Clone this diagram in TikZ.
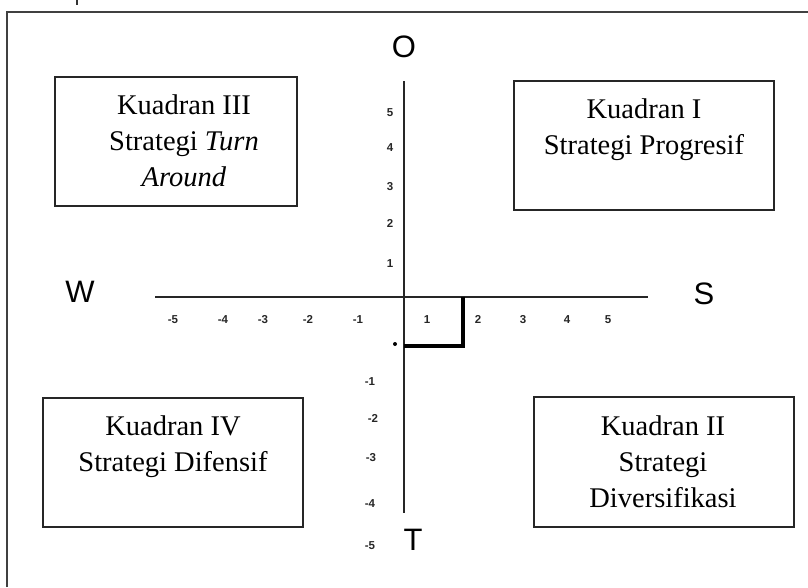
\documentclass[tikz,border=0pt]{standalone}
\usepackage{fontspec}
\setmainfont{Liberation Serif}
\newfontfamily\axisfont{Liberation Sans}
\begin{document}
\begin{tikzpicture}[x=1pt,y=-1pt,
  quadbox/.style={draw=black!85,line width=1.4pt,inner sep=0pt},
  quadtext/.style={anchor=north,align=center,inner sep=0pt,font=\fontsize{28.5}{36}\selectfont},
  axislet/.style={font=\axisfont\fontsize{31}{31}\selectfont,inner sep=0pt},
  tick/.style={font=\axisfont\bfseries\fontsize{11.5}{11.5}\selectfont,inner sep=0pt,text=black!85,text height=8.2pt,text depth=0pt},
  axisline/.style={line width=1.2pt,draw=black!85}]
\useasboundingbox (0,0) rectangle (808,587);
% outer frame (partly cut)
\draw[line width=1.5pt,black!75] (7,587) -- (7,12) -- (808,12);
\draw[line width=1.4pt,black!80] (77,0) -- (77,5);
% quadrant boxes
\node[quadbox,minimum width=242pt,minimum height=129pt] (b3) at (176,141.5) {};
\node[quadbox,minimum width=260pt,minimum height=129pt] (b1) at (644,145.5) {};
\node[quadbox,minimum width=260pt,minimum height=129pt] (b4) at (173,462.5) {};
\node[quadbox,minimum width=260pt,minimum height=130pt] (b2) at (664,462) {};
\node[quadtext] (t3) at (184,95) {Kuadran III\\Strategi \textit{Turn}\\\textit{Around}};
\node[quadtext] (t1) at (644,99) {Kuadran I\\Strategi Progresif};
\node[quadtext] (t4) at (173,416) {Kuadran IV\\Strategi Difensif};
\node[quadtext] (t2) at (663,416) {Kuadran II\\Strategi\\Diversifikasi};
% axes
\coordinate (ytop) at (404,81);
\coordinate (ybot) at (404,513);
\coordinate (xl) at (155,297);
\coordinate (xr) at (648,297);
\draw[axisline] (ytop) -- (ybot);
\draw[axisline] (xl) -- (xr);
% axis letters
\node[axislet] (O) at (404,47) {O};
\node[axislet] (W) at (80,292) {W};
\node[axislet] (S) at (704,294) {S};
\node[axislet] (T) at (413,540) {T};
% x ticks
\foreach \lab/\xx in {-5/173,-4/223,-3/263,-2/308,-1/358,1/427,2/478,3/523,4/567,5/608}
  \node[tick] at (\xx,319) {\lab};
% y ticks
\foreach \lab/\xx/\yy in {5/390/112,4/390/147,3/390/186,2/390/223,1/390/263,-1/370/381,-2/373/418,-3/371/457,-4/370/503,-5/370/545}
  \node[tick] at (\xx,\yy) {\lab};
% result point
\coordinate (p0) at (404,346);
\coordinate (p1) at (463,346);
\coordinate (p2) at (463,297);
\draw[line width=4pt] (p0) -- (p1) -- (p2);
\fill (395,344) circle (2pt);
\end{tikzpicture}
\end{document}
